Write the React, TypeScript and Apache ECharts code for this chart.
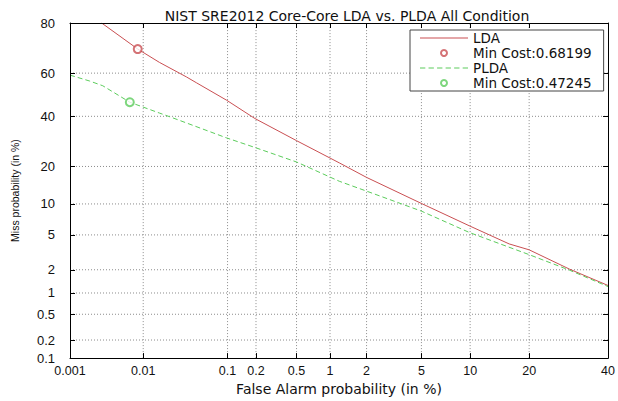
import React, { useEffect, useRef } from "react";
import * as echarts from "echarts";

// False alarm % / miss %
const ldaFA = [0.0028, 0.0085, 0.016, 0.034, 0.045, 0.098, 0.195, 0.5, 1.2, 2.0, 5.0, 9.9, 16.1, 20, 29.4, 40];
const ldaMiss = [80, 70.4, 64.8, 58.3, 55.5, 47.4, 39.0, 29.5, 21.2, 16.6, 10.1, 6.2, 4.0, 3.44, 2.04, 1.26];
const pldaFA = [0.001, 0.0019, 0.0029, 0.0067, 0.016, 0.023, 0.098, 0.195, 0.5, 1.2, 2.0, 5.0, 9.9, 20, 29.4, 40];
const pldaMiss = [59.1, 56.4, 54.2, 46.5, 41.5, 39.4, 30.6, 26.8, 21.5, 15.5, 12.9, 8.6, 5.3, 3.03, 1.98, 1.22];
const ldaMinCost = [0.0085, 70.4];
const pldaMinCost = [0.0067, 46.5];

const xTicks = [0.001, 0.01, 0.1, 0.2, 0.5, 1, 2, 5, 10, 20, 40];
const xTickLabels = ["0.001", "0.01", "0.1", "0.2", "0.5", "1", "2", "5", "10", "20", "40"];
const yTicks = [0.1, 0.2, 0.5, 1, 2, 5, 10, 20, 40, 60, 80];
const yTickLabels = ["0.1", "0.2", "0.5", "1", "2", "5", "10", "20", "40", "60", "80"];

function probit(p: number): number {
  const a = [-3.969683028665376e1, 2.209460984245205e2, -2.759285104469687e2, 1.38357751867269e2, -3.066479806614716e1, 2.506628277459239];
  const b = [-5.447609879822406e1, 1.615858368580409e2, -1.556989798598866e2, 6.680131188771972e1, -1.328068155288572e1];
  const c = [-7.784894002430293e-3, -3.223964580411365e-1, -2.400758277161838, -2.549732539343734, 4.374664141464968, 2.938163982698783];
  const d = [7.784695709041462e-3, 3.224671290700398e-1, 2.445134137142996, 3.754408661907416];
  const pl = 0.02425;
  if (p < pl) {
    const q = Math.sqrt(-2 * Math.log(p));
    return (((((c[0] * q + c[1]) * q + c[2]) * q + c[3]) * q + c[4]) * q + c[5]) / ((((d[0] * q + d[1]) * q + d[2]) * q + d[3]) * q + 1);
  }
  if (p <= 1 - pl) {
    const q = p - 0.5;
    const r = q * q;
    return ((((((a[0] * r + a[1]) * r + a[2]) * r + a[3]) * r + a[4]) * r + a[5]) * q) / (((((b[0] * r + b[1]) * r + b[2]) * r + b[3]) * r + b[4]) * r + 1);
  }
  const q = Math.sqrt(-2 * Math.log(1 - p));
  return -(((((c[0] * q + c[1]) * q + c[2]) * q + c[3]) * q + c[4]) * q + c[5]) / ((((d[0] * q + d[1]) * q + d[2]) * q + d[3]) * q + 1);
}

const pz = (pct: number) => probit(pct / 100);
const xTickZ = xTicks.map(pz);
const yTickZ = yTicks.map(pz);
const fmt = (zs: number[], labels: string[]) => (v: number) => {
  for (let i = 0; i < zs.length; i++) if (Math.abs(zs[i] - v) < 1e-6) return labels[i];
  return "";
};

const RED = "#c94f52";
const GREEN = "#5ccc5c";
const FONT = "Liberation Sans, Arial, sans-serif";
const WIDE = "DejaVu Sans, sans-serif";

export default function App() {
  const ref = useRef<HTMLDivElement>(null);
  useEffect(() => {
    if (!ref.current) return;
    const chart = echarts.init(ref.current, null, { renderer: "svg" });
    const xMin = xTickZ[0], xMax = xTickZ[xTickZ.length - 1];
    const yMin = yTickZ[0], yMax = yTickZ[yTickZ.length - 1];
    const boxLine = { show: true, onZero: false, lineStyle: { color: "#000", width: 1 } };
    const smallTick = (vals: number[]) => ({ show: true, inside: true, length: 5, customValues: vals, lineStyle: { color: "#000", width: 1 } });
    const hidden = { show: false };
    const gridStyle = { color: "#8c8c8c", width: 1, type: [1, 2] as number[] };
    const gridSeries = [
      ...xTickZ.slice(1, -1).map((v, i) => ({
        name: "gx" + i,
        type: "line",
        z: 1,
        silent: true,
        showSymbol: false,
        symbol: "none",
        lineStyle: gridStyle,
        data: [[v, yMin], [v, yMax]],
      })),
      ...yTickZ.slice(1, -1).map((v, i) => ({
        name: "gy" + i,
        type: "line",
        z: 1,
        silent: true,
        showSymbol: false,
        symbol: "none",
        lineStyle: gridStyle,
        data: [[xMin, v], [xMax, v]],
      })),
    ];
    chart.setOption({
      animation: false,
      textStyle: { fontFamily: FONT },
      title: {
        text: "NIST SRE2012 Core-Core LDA vs. PLDA All Condition",
        left: 342,
        textAlign: "center",
        top: 4,
        textStyle: { fontSize: 14, fontWeight: "normal", color: "#111", fontFamily: WIDE },
      },
      grid: { left: 70, right: 9, top: 23, bottom: 31 },
      legend: {
        orient: "vertical",
        left: 410,
        top: 30,
        z: 10,
        backgroundColor: "#fff",
        borderColor: "#444",
        borderWidth: 1,
        borderRadius: 0,
        padding: [1, 12, 1, 10],
        itemWidth: 48,
        itemHeight: 6,
        itemGap: 1,
        symbolKeepAspect: true,
        textStyle: { fontSize: 13.5, color: "#111", fontFamily: WIDE, lineHeight: 13.5 },
        data: [
          { name: "LDA", icon: "path://M0,0H48V1H0Z" },
          { name: "Min Cost:0.68199", icon: "emptyCircle" },
          { name: "PLDA", icon: "path://M0,0H5V1H0Z M8,0H13V1H8Z M16,0H21V1H16Z M24,0H29V1H24Z M32,0H37V1H32Z M40,0H45V1H40Z" },
          { name: "Min Cost:0.47245", icon: "emptyCircle" },
        ],
      },
      xAxis: [
        {
          type: "value",
          position: "bottom",
          min: xMin,
          max: xMax,
          z: 5,
          name: "False Alarm probability (in %)",
          nameLocation: "middle",
          nameGap: 18,
          nameTextStyle: { fontSize: 14, color: "#111", fontFamily: WIDE },
          axisLine: boxLine,
          axisTick: smallTick(xTickZ),
          axisLabel: { customValues: xTickZ, formatter: fmt(xTickZ, xTickLabels), fontSize: 12.5, color: "#111", margin: 6, fontFamily: FONT },
          splitLine: hidden,
        },
        {
          type: "value",
          position: "top",
          min: xMin,
          max: xMax,
          z: 5,
          axisLine: boxLine,
          axisTick: smallTick(xTickZ),
          axisLabel: hidden,
          splitLine: hidden,
        },
      ],
      yAxis: [
        {
          type: "value",
          position: "left",
          min: yMin,
          max: yMax,
          z: 5,
          name: "Miss probability (in %)",
          nameLocation: "middle",
          nameGap: 50,
          nameTextStyle: { fontSize: 10.5, color: "#111", fontFamily: FONT },
          axisLine: boxLine,
          axisTick: smallTick(yTickZ),
          axisLabel: { customValues: yTickZ, formatter: fmt(yTickZ, yTickLabels), fontSize: 13, color: "#111", margin: 15, fontFamily: FONT },
          splitLine: hidden,
        },
        {
          type: "value",
          position: "right",
          min: yMin,
          max: yMax,
          z: 5,
          axisLine: boxLine,
          axisTick: smallTick(yTickZ),
          axisLabel: hidden,
          splitLine: hidden,
        },
      ],
      series: [
        ...gridSeries,
        {
          name: "LDA",
          type: "line",
          z: 3,
          showSymbol: false,
          symbol: "none",
          color: RED,
          lineStyle: { color: RED, width: 1 },
          data: ldaFA.map((f, i) => [pz(f), pz(ldaMiss[i])]),
        },
        {
          name: "Min Cost:0.68199",
          type: "scatter",
          z: 3,
          symbol: "emptyCircle",
          symbolSize: 8,
          color: RED,
          itemStyle: { color: RED, borderColor: RED, borderWidth: 1 },
          data: [[pz(ldaMinCost[0]), pz(ldaMinCost[1])]],
        },
        {
          name: "PLDA",
          type: "line",
          z: 3,
          showSymbol: false,
          symbol: "none",
          color: GREEN,
          lineStyle: { color: GREEN, width: 1, type: [5, 3] },
          data: pldaFA.map((f, i) => [pz(f), pz(pldaMiss[i])]),
        },
        {
          name: "Min Cost:0.47245",
          type: "scatter",
          z: 3,
          symbol: "emptyCircle",
          symbolSize: 8,
          color: GREEN,
          itemStyle: { color: GREEN, borderColor: GREEN, borderWidth: 1 },
          data: [[pz(pldaMinCost[0]), pz(pldaMinCost[1])]],
        },
      ],
    });
    return () => chart.dispose();
  }, []);
  return <div ref={ref} style={{ width: 618, height: 401, position: "absolute", left: 0, top: 0, background: "#fff" }} />;
}
